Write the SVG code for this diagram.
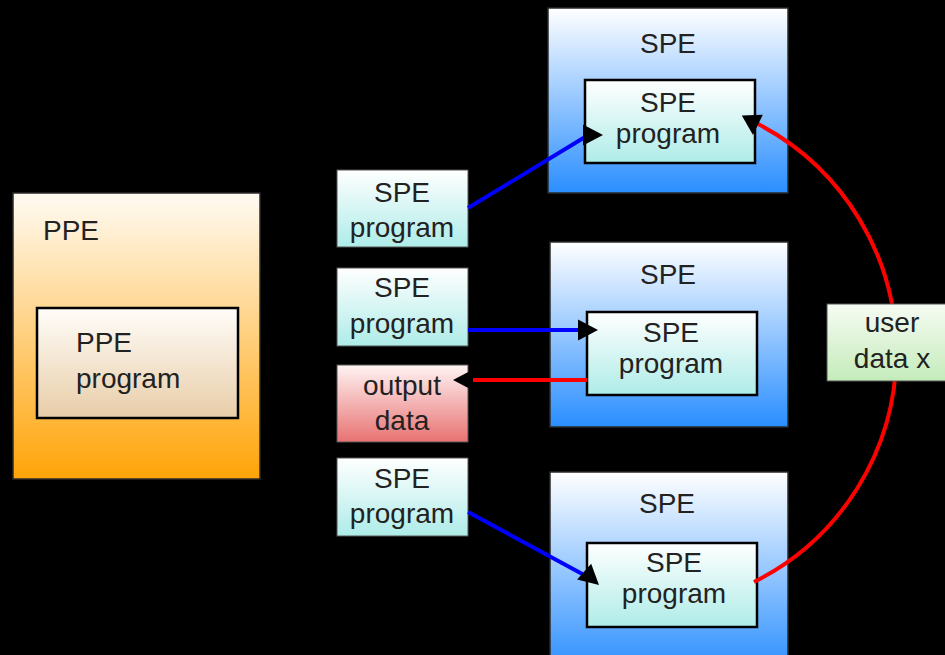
<svg xmlns="http://www.w3.org/2000/svg" xmlns:xlink="http://www.w3.org/1999/xlink" width="945" height="655" viewBox="0 0 945 655">
  <defs>
    <linearGradient id="gPPE" x1="0" y1="0" x2="0" y2="1">
      <stop offset="0" stop-color="#fffbf3"/>
      <stop offset="1" stop-color="#ffa408"/>
    </linearGradient>
    <linearGradient id="gPPEprog" x1="0" y1="0" x2="0" y2="1">
      <stop offset="0" stop-color="#fffdf9"/>
      <stop offset="1" stop-color="#e8cda8"/>
    </linearGradient>
    <linearGradient id="gSPE" x1="0" y1="0" x2="0" y2="1">
      <stop offset="0" stop-color="#ffffff"/>
      <stop offset="1" stop-color="#2a8eff"/>
    </linearGradient>
    <linearGradient id="gProg" x1="0" y1="0" x2="0" y2="1">
      <stop offset="0" stop-color="#ffffff"/>
      <stop offset="1" stop-color="#aeece8"/>
    </linearGradient>
    <linearGradient id="gOut" x1="0" y1="0" x2="0" y2="1">
      <stop offset="0" stop-color="#fff3f3"/>
      <stop offset="1" stop-color="#e87272"/>
    </linearGradient>
    <linearGradient id="gUser" x1="0" y1="0" x2="0" y2="1">
      <stop offset="0" stop-color="#f6fcf3"/>
      <stop offset="1" stop-color="#c4ebba"/>
    </linearGradient>
    <!-- arrowhead, tip at origin pointing along +x -->
    <path id="tip" d="M0,0 L-20,-10.5 L-20,10.5 Z" fill="#000"/>
  </defs>
  <style>
    text { font-family: "Liberation Sans", Arial, sans-serif; font-size: 28px; fill: #222; }
    .c { text-anchor: middle; }
    .outer { stroke: #2a2a2a; stroke-width: 1.5; }
    .inner { stroke: #000; stroke-width: 2.5; }
    .small { stroke: #555; stroke-width: 1; }
    .blue { stroke: #0000ff; stroke-width: 4; fill: none; }
    .red { stroke: #ff0000; stroke-width: 4; fill: none; }
  </style>

  <rect width="945" height="655" fill="#000"/>

  <!-- PPE -->
  <g id="ppe">
    <rect class="outer" x="13" y="193" width="247" height="286" fill="url(#gPPE)"/>
    <text x="43" y="240">PPE</text>
  </g>
  <g id="ppe-program">
    <rect class="inner" x="37" y="308" width="201" height="110" fill="url(#gPPEprog)"/>
    <text x="76" y="352">PPE</text>
    <text x="76" y="388">program</text>
  </g>

  <!-- SPE program sources and output -->
  <g id="src1">
    <rect class="small" x="337" y="170" width="131" height="77" fill="url(#gProg)"/>
    <text class="c" x="402" y="202">SPE</text>
    <text class="c" x="402" y="237">program</text>
  </g>
  <g id="src2">
    <rect class="small" x="337" y="268" width="131" height="78" fill="url(#gProg)"/>
    <text class="c" x="402" y="297">SPE</text>
    <text class="c" x="402" y="333">program</text>
  </g>
  <g id="output">
    <rect class="small" x="337" y="365" width="131" height="77" fill="url(#gOut)"/>
    <text class="c" x="402" y="395">output</text>
    <text class="c" x="402" y="430">data</text>
  </g>
  <g id="src3">
    <rect class="small" x="337" y="458" width="131" height="78" fill="url(#gProg)"/>
    <text class="c" x="402" y="488">SPE</text>
    <text class="c" x="402" y="523">program</text>
  </g>

  <!-- SPE units -->
  <g id="spe1">
    <rect class="outer" x="548" y="8" width="240" height="185" fill="url(#gSPE)"/>
    <text class="c" x="668" y="53">SPE</text>
    <rect class="inner" x="585" y="80" width="170" height="83" fill="url(#gProg)"/>
    <text class="c" x="668" y="112">SPE</text>
    <text class="c" x="668" y="143">program</text>
  </g>
  <g id="spe2">
    <rect class="outer" x="550" y="242" width="238" height="185" fill="url(#gSPE)"/>
    <text class="c" x="668" y="284">SPE</text>
    <rect class="inner" x="587" y="312" width="170" height="83" fill="url(#gProg)"/>
    <text class="c" x="671" y="342">SPE</text>
    <text class="c" x="671" y="373">program</text>
  </g>
  <g id="spe3">
    <rect class="outer" x="550" y="472" width="238" height="200" fill="url(#gSPE)"/>
    <text class="c" x="667" y="513">SPE</text>
    <rect class="inner" x="587" y="543" width="170" height="84" fill="url(#gProg)"/>
    <text class="c" x="674" y="572">SPE</text>
    <text class="c" x="674" y="603">program</text>
  </g>

  <!-- connectors -->
  <g id="connectors">
    <path class="blue" d="M468,208 L590,134"/>
    <use xlink:href="#tip" transform="translate(603,135)"/>
    <path class="blue" d="M468,330 L582,330"/>
    <use xlink:href="#tip" transform="translate(598,330)"/>
    <path class="red" d="M587,380 L470,380"/>
    <use xlink:href="#tip" transform="translate(453,380) rotate(180)"/>
    <path class="blue" d="M468,512 L586,576"/>
    <use xlink:href="#tip" transform="translate(599,585) rotate(42)"/>
    <path class="red" d="M754,582 A257,257 0 0 0 758,124"/>
    <use xlink:href="#tip" transform="translate(753,135) rotate(88)"/>
  </g>

  <!-- label on the return path -->
  <g id="user-data">
    <rect class="small" x="827" y="304" width="130" height="77" fill="url(#gUser)"/>
    <text class="c" x="892" y="332">user</text>
    <text class="c" x="892" y="368">data x</text>
  </g>
</svg>
